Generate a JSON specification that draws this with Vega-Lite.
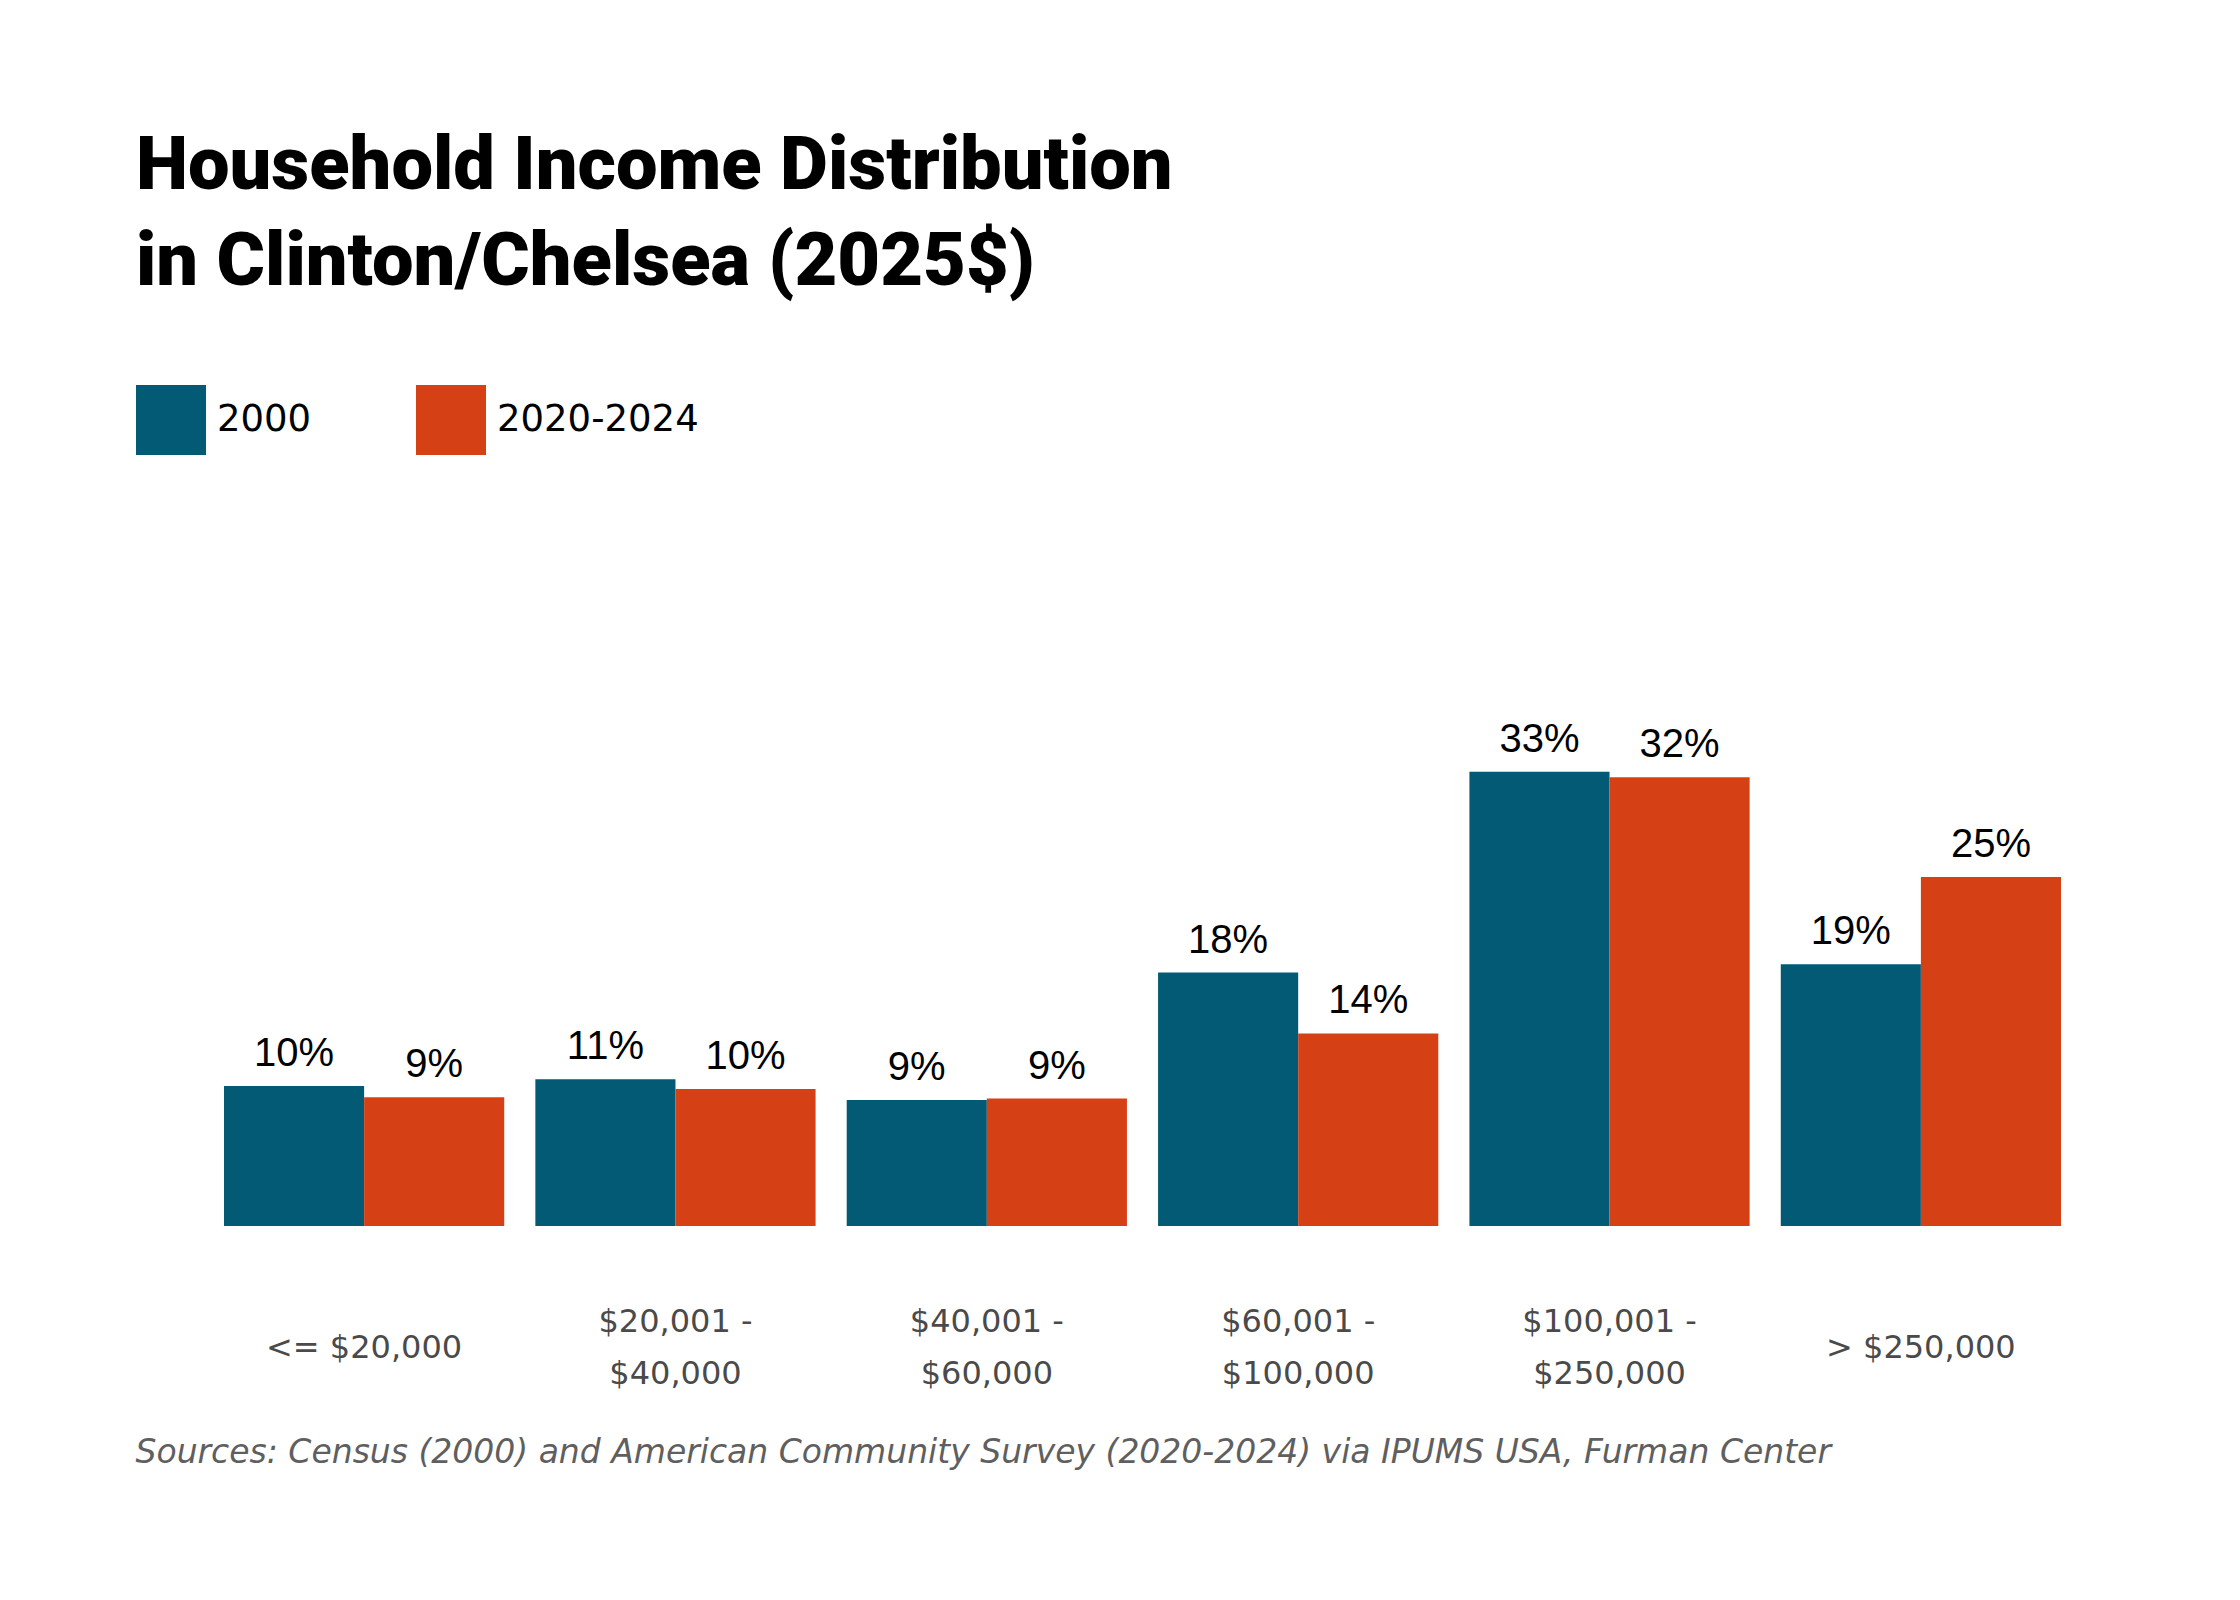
{
  "$schema": "https://vega.github.io/schema/vega-lite/v6.json",
  "autosize": {"type": "none"},
  "width": 1837,
  "height": 554,
  "padding": {"left": 224, "top": 672, "right": 179, "bottom": 374},
  "background": "white",
  "title": {
    "text": ["Household Income Distribution", "in Clinton/Chelsea (2025$)"],
    "anchor": "start",
    "frame": "group",
    "dx": -88,
    "offset": 26,
    "baseline": "alphabetic",
    "lineHeight": 96,
    "font": "Roboto",
    "fontSize": 74,
    "fontWeight": 900,
    "color": "black"
  },
  "data": {
    "values": [
      {"category": "<= $20,000", "period": "2000", "share": 0.101},
      {"category": "<= $20,000", "period": "2020-2024", "share": 0.093},
      {"category": "$20,001 - $40,000", "period": "2000", "share": 0.106},
      {"category": "$20,001 - $40,000", "period": "2020-2024", "share": 0.099},
      {"category": "$40,001 - $60,000", "period": "2000", "share": 0.091},
      {"category": "$40,001 - $60,000", "period": "2020-2024", "share": 0.092},
      {"category": "$60,001 - $100,000", "period": "2000", "share": 0.183},
      {"category": "$60,001 - $100,000", "period": "2020-2024", "share": 0.139},
      {"category": "$100,001 - $250,000", "period": "2000", "share": 0.328},
      {"category": "$100,001 - $250,000", "period": "2020-2024", "share": 0.324},
      {"category": "> $250,000", "period": "2000", "share": 0.189},
      {"category": "> $250,000", "period": "2020-2024", "share": 0.252}
    ]
  },
  "encoding": {
    "x": {
      "field": "category",
      "type": "nominal",
      "sort": null,
      "scale": {"paddingInner": 0.1, "paddingOuter": 0},
      "axis": {
        "title": "Sources: Census (2000) and American Community Survey (2020-2024) via IPUMS USA, Furman Center",
        "titleX": -89,
        "titleY": 236,
        "titleAlign": "left",
        "titleBaseline": "alphabetic",
        "titleFont": "DejaVu Sans",
        "titleFontStyle": "italic",
        "titleFontWeight": "normal",
        "titleFontSize": 33,
        "titleColor": "#5f5f5f",
        "labelExpr": "split(replace(datum.label, ' - ', ' -|'), '|')",
        "labelAngle": 0,
        "labelBaseline": "middle",
        "labelPadding": {"condition": {"test": "indexof(datum.label, ' - ') >= 0", "value": 95}, "value": 121},
        "labelLineHeight": 52,
        "labelFont": "DejaVu Sans",
        "labelFontSize": 32,
        "labelColor": "#4a4a4a",
        "labelLimit": 400,
        "ticks": false,
        "tickSize": 0,
        "domain": false
      }
    },
    "xOffset": {"field": "period", "type": "nominal", "scale": {"paddingInner": 0, "paddingOuter": 0}},
    "y": {"field": "share", "type": "quantitative", "scale": {"domain": [0, 0.4]}, "axis": null}
  },
  "layer": [
    {
      "mark": {"type": "bar"},
      "encoding": {
        "color": {
          "field": "period",
          "type": "nominal",
          "scale": {"range": ["#025a75", "#d64015"]},
          "legend": {
            "title": null,
            "orient": "none",
            "legendX": -88,
            "legendY": -287,
            "direction": "horizontal",
            "symbolType": "square",
            "symbolSize": 4900,
            "symbolStrokeWidth": 0,
            "symbolOpacity": 1,
            "labelFont": "DejaVu Sans",
            "labelFontSize": 37,
            "labelColor": "black",
            "labelOffset": 11,
            "labelLimit": 400,
            "columnPadding": 104,
            "padding": 0
          }
        }
      }
    },
    {
      "mark": {"type": "text", "dy": -20, "baseline": "alphabetic", "font": "Liberation Sans", "fontSize": 40, "color": "black"},
      "encoding": {"text": {"field": "share", "format": ".0%"}}
    }
  ],
  "config": {"view": {"stroke": null}}
}
